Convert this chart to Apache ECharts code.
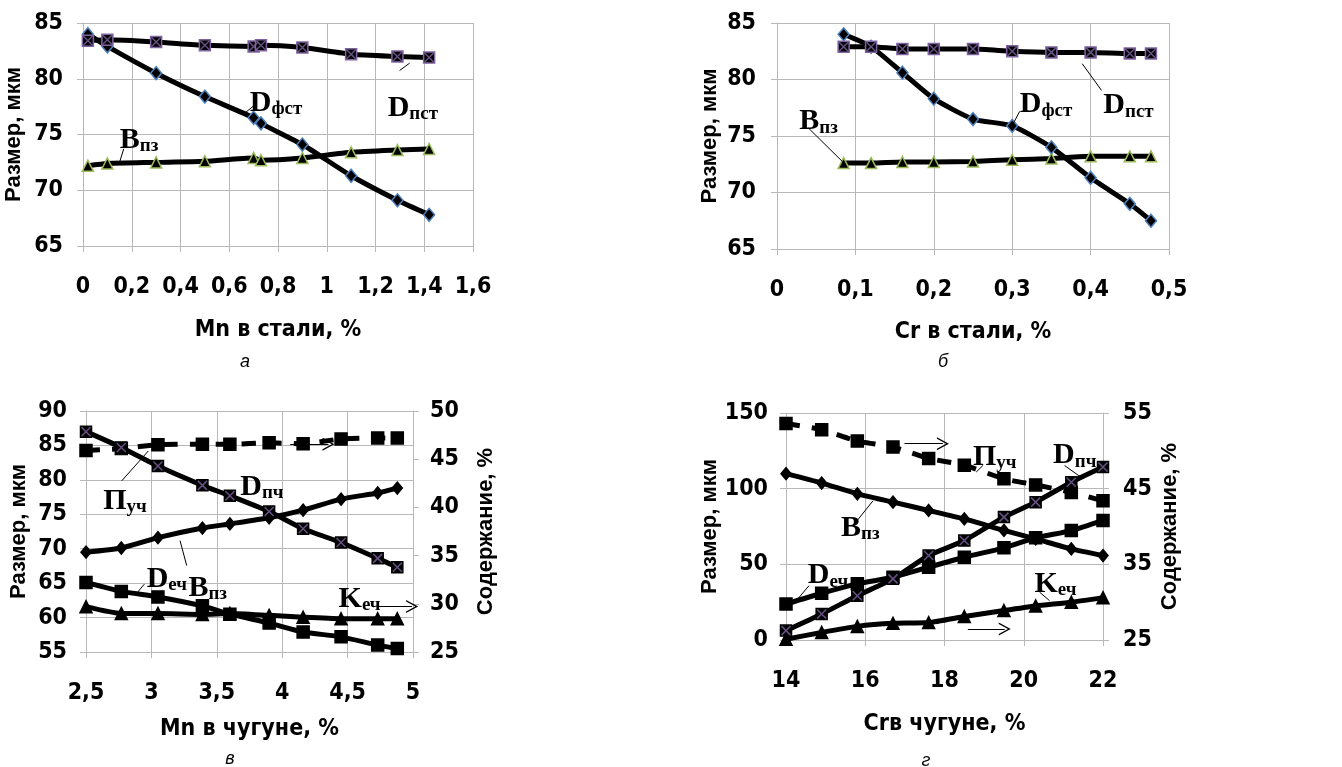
<!DOCTYPE html>
<html>
<head>
<meta charset="utf-8">
<script src="https://cdn.jsdelivr.net/npm/echarts@6/dist/echarts.min.js"></script>
<style>
html,body{margin:0;padding:0;background:#fff;}
#chart{width:1342px;height:767px;}
</style>
</head>
<body>
<div id="chart"></div>
<script>
// а - Mn в стали
var mnSteel = [0.02, 0.1, 0.3, 0.5, 0.7, 0.73, 0.9, 1.1, 1.29, 1.42];
var aDpst = [83.4, 83.5, 83.3, 83.0, 82.9, 83.0, 82.8, 82.2, 82.0, 81.9];
var aDfst = [84.0, 82.9, 80.5, 78.4, 76.5, 76.0, 74.1, 71.3, 69.1, 67.8];
var aBpz = [72.2, 72.4, 72.5, 72.6, 72.9, 72.7, 72.9, 73.4, 73.6, 73.7];

// б - Cr в стали
var crSteel = [0.085, 0.12, 0.16, 0.2, 0.25, 0.3, 0.35, 0.4, 0.45, 0.477];
var bDpst = [82.9, 82.9, 82.7, 82.7, 82.7, 82.5, 82.4, 82.4, 82.3, 82.3];
var bDfst = [84.0, 82.9, 80.6, 78.3, 76.5, 75.9, 74.0, 71.3, 69.0, 67.5];
var bBpz = [72.6, 72.6, 72.7, 72.7, 72.75, 72.9, 73.0, 73.2, 73.2, 73.2];

// в - Mn в чугуне (Пуч и Кеч по правой оси)
var mnIron = [2.5, 2.77, 3.05, 3.39, 3.6, 3.9, 4.16, 4.45, 4.73, 4.88];
var vPuch = [45.9, 46.1, 46.5, 46.55, 46.55, 46.7, 46.6, 47.1, 47.2, 47.2];
var vDpch = [87.0, 84.7, 82.0, 79.2, 77.7, 75.4, 72.9, 70.9, 68.6, 67.3];
var vBpz = [69.5, 70.1, 71.6, 73.0, 73.6, 74.5, 75.6, 77.2, 78.1, 78.8];
var vDech = [65.1, 63.8, 63.0, 61.7, 60.5, 59.2, 57.9, 57.2, 56.0, 55.5];
var vKech = [29.7, 29.0, 29.0, 28.9, 29.0, 28.8, 28.6, 28.45, 28.45, 28.45];

// г - Cr в чугуне
var crIron = [14, 14.9, 15.8, 16.7, 17.6, 18.5, 19.5, 20.3, 21.2, 22];
var gPuch = [53.6, 52.8, 51.3, 50.5, 49.0, 48.1, 46.3, 45.5, 44.5, 43.4];
var gBpz = [109.9, 103.7, 96.6, 91.1, 85.6, 80.0, 72.4, 66.8, 60.2, 55.8];
var gDpch = [6.2, 17.2, 29.3, 40.4, 55.8, 65.7, 81.2, 91.1, 104.3, 114.3];
var gDech = [23.8, 30.9, 37.1, 41.5, 48.1, 54.7, 60.9, 67.5, 72.3, 79.0];
var gKech = [25.1, 26.0, 26.8, 27.2, 27.3, 28.1, 28.9, 29.5, 30.0, 30.6];

// подписи кривых [буква, индекс, x, y] и выноски [x1, y1, x2, y2]
var aNotes = [['D', 'фст', 0.684, 77.84], ['D', 'пст', 1.25, 77.39], ['B', 'пз', 0.151, 74.52]];
var aLeads = [[0.70, 77.57, 0.663, 76.9], [1.299, 80.74, 1.34, 81.4], [0.167, 73.71, 0.148, 72.36]];
var bNotes = [['B', 'пз', 0.0285, 76.29], ['D', 'фст', 0.3096, 77.77], ['D', 'пст', 0.4162, 77.68]];
var bLeads = [[0.04, 75.71, 0.084, 72.7], [0.3096, 77.18, 0.3012, 76.09], [0.414, 79.03, 0.3893, 81.4]];
var vNotes = [['П', 'уч', 2.632, 76.96], ['D', 'пч', 3.679, 78.99], ['D', 'еч', 2.964, 65.62], ['B', 'пз', 3.283, 64.31], ['K', 'еч', 4.431, 62.72]];
var vLeads = [[2.773, 79.86, 2.977, 84.2], [2.946, 64.85, 2.875, 63.25], [3.27, 67.55, 3.219, 71.17]];
var vArrows = [[4.061, 85.18, 4.354, 85.18], [4.737, 61.6, 4.993, 61.6]];
var gNotes = [['П', 'уч', 18.72, 120.9], ['D', 'пч', 20.74, 121.9], ['B', 'пз', 15.39, 74.1], ['D', 'еч', 14.55, 42.5], ['K', 'еч', 20.27, 37.0]];
var gLeads = [[18.97, 115.3, 18.8, 111.0], [21.03, 115.3, 21.5, 106.5], [15.81, 79.4, 16.19, 91.8], [14.58, 35.9, 14.28, 26.6], [20.4, 31.6, 20.65, 26.0]];
var gArrows = [[16.99, 129.7, 17.96, 129.7], [18.59, 7.3, 19.52, 7.3]];

var tickFont = '"Liberation Sans Narrow", "DejaVu Sans Condensed", sans-serif';
var titleFont = '"Liberation Sans", Arial, sans-serif';
var serif = '"Liberation Serif", "Times New Roman", serif';
var gridColor = '#b8b8b8';
var blue = '#4f81bd', green = '#9bbb59', purple = '#8064a2';
var chevron = 'path://M0,12 L6,0 L12,12 L10.6,12 L6,2.8 L1.4,12 Z';
var xMark = 'path://M0,0 L10,10 M10,0 L0,10';

function dec(v) { return String(Math.round(v * 1000) / 1000).replace('.', ','); }
function zip(xs, ys) { return xs.map(function (x, i) { return [x, ys[i]]; }); }

function xAx(g, min, max, step, name, gap) {
  return {
    type: 'value', gridIndex: g, min: min, max: max, interval: step,
    name: name, nameLocation: 'middle', nameGap: gap,
    nameTextStyle: { fontFamily: tickFont, fontWeight: 'bold', fontSize: 23, color: '#000' },
    axisLine: { show: true, lineStyle: { color: gridColor } },
    axisTick: { show: true, length: 6, lineStyle: { color: gridColor } },
    axisLabel: { margin: 30, formatter: dec, fontFamily: tickFont, fontWeight: 'bold', fontSize: 23, color: '#000' },
    splitLine: { show: true, lineStyle: { color: gridColor } }
  };
}
function yAx(g, pos, min, max, step, name, gap, margin, split) {
  return {
    type: 'value', gridIndex: g, position: pos, min: min, max: max, interval: step,
    name: name, nameLocation: 'middle', nameGap: gap, nameRotate: 90,
    nameTextStyle: { fontFamily: titleFont, fontWeight: 'bold', fontSize: 22, color: '#000' },
    axisLine: { show: true, lineStyle: { color: gridColor } },
    axisTick: { show: true, length: 6, lineStyle: { color: gridColor } },
    axisLabel: { margin: margin, formatter: dec, fontFamily: tickFont, fontWeight: 'bold', fontSize: 23, color: '#000' },
    splitLine: { show: split, lineStyle: { color: gridColor } }
  };
}

function curve(xi, yi, xs, ys, symbol, size, border, dashed) {
  return {
    type: 'line', xAxisIndex: xi, yAxisIndex: yi, data: zip(xs, ys),
    smooth: 0.2, symbol: symbol, symbolSize: size, showAllSymbol: true,
    lineStyle: { color: '#000', width: 5, type: dashed ? [14, 12] : 'solid' },
    itemStyle: { color: '#000', borderColor: border || '#000', borderWidth: 1.5 },
    z: 3, animation: false
  };
}
function crosses(xi, yi, xs, ys) {
  return {
    type: 'scatter', xAxisIndex: xi, yAxisIndex: yi, data: zip(xs, ys),
    symbol: xMark, symbolSize: 9, silent: true, z: 4, animation: false,
    itemStyle: { color: 'transparent', borderColor: purple, borderWidth: 1.5 }
  };
}
function annotate(s, notes, leads, arrows) {
  s.markPoint = {
    symbol: 'circle', symbolSize: 0, silent: true, animation: false,
    itemStyle: { color: 'transparent' },
    label: {
      show: true, position: 'right', distance: 0,
      rich: {
        m: { fontFamily: serif, fontWeight: 'bold', fontSize: 30, color: '#000', lineHeight: 32 },
        s: { fontFamily: serif, fontWeight: 'bold', fontSize: 19, color: '#000', lineHeight: 22, verticalAlign: 'bottom' }
      }
    },
    data: notes.map(function (n) {
      return { coord: [n[2], n[3]], label: { formatter: '{m|' + n[0] + '}{s|' + n[1] + '}' } };
    })
  };
  var lines = leads.map(function (l) {
    return [{ coord: [l[0], l[1]] }, { coord: [l[2], l[3]] }];
  });
  (arrows || []).forEach(function (a) {
    lines.push([{ coord: [a[0], a[1]], symbol: 'none' },
                { coord: [a[2], a[3]], symbol: chevron, symbolSize: [13, 12] }]);
  });
  s.markLine = {
    silent: true, animation: false, symbol: ['none', 'none'],
    label: { show: false },
    lineStyle: { color: '#000', width: 1, type: 'solid' },
    data: lines
  };
  return s;
}

var series = [
  curve(0, 0, mnSteel, aBpz, 'triangle', 11, green),
  annotate(curve(0, 0, mnSteel, aDfst, 'diamond', [11, 13], blue), aNotes, aLeads),
  curve(0, 0, mnSteel, aDpst, 'rect', 11, purple),
  crosses(0, 0, mnSteel, aDpst),

  curve(1, 1, crSteel, bBpz, 'triangle', 11, green),
  annotate(curve(1, 1, crSteel, bDfst, 'diamond', [11, 13], blue), bNotes, bLeads),
  curve(1, 1, crSteel, bDpst, 'rect', 11, purple),
  crosses(1, 1, crSteel, bDpst),

  curve(2, 3, mnIron, vPuch, 'rect', 12, '#000', true),
  annotate(curve(2, 2, mnIron, vBpz, 'diamond', [10, 12]), vNotes, vLeads, vArrows),
  curve(2, 2, mnIron, vDpch, 'rect', 11),
  crosses(2, 2, mnIron, vDpch),
  curve(2, 2, mnIron, vDech, 'rect', 12),
  curve(2, 3, mnIron, vKech, 'triangle', 12),

  curve(3, 5, crIron, gPuch, 'rect', 12, '#000', true),
  annotate(curve(3, 4, crIron, gBpz, 'diamond', [10, 12]), gNotes, gLeads, gArrows),
  curve(3, 4, crIron, gDpch, 'rect', 11),
  crosses(3, 4, crIron, gDpch),
  curve(3, 4, crIron, gDech, 'rect', 12),
  curve(3, 5, crIron, gKech, 'triangle', 12)
];

var captions = [['а', 245, 362], ['б', 943, 362], ['в', 230, 759], ['г', 926, 761]];

var option = {
  backgroundColor: '#fff',
  animation: false,
  grid: [
    { left: 83, top: 23, width: 390, height: 223 },
    { left: 777, top: 23, width: 392, height: 226 },
    { left: 86, top: 411, width: 327, height: 241 },
    { left: 786, top: 413, width: 317, height: 227 }
  ],
  xAxis: [
    xAx(0, 0, 1.6, 0.2, 'Mn в стали, %', 73),
    xAx(1, 0, 0.5, 0.1, 'Cr в стали, %', 72),
    xAx(2, 2.5, 5, 0.5, 'Mn в чугуне, %', 66),
    xAx(3, 14, 22, 2, 'Crв чугуне, %', 73)
  ],
  yAxis: [
    yAx(0, 'left', 65, 85, 5, 'Размер, мкм', 58, 20, true),
    yAx(1, 'left', 65, 85, 5, 'Размер, мкм', 56, 21, true),
    yAx(2, 'left', 55, 90, 5, 'Размер, мкм', 56, 19, true),
    yAx(2, 'right', 25, 50, 5, 'Содержание, %', 62, 17, false),
    yAx(3, 'left', 0, 150, 50, 'Размер, мкм', 58, 18, true),
    yAx(3, 'right', 25, 55, 10, 'Содержание, %', 56, 20, false)
  ],
  graphic: captions.map(function (c) {
    return {
      type: 'text', x: c[1], y: c[2],
      style: { text: c[0], align: 'center', verticalAlign: 'middle', font: 'italic 18px "Liberation Sans", Arial, sans-serif', fill: '#000' }
    };
  }),
  series: series
};

var chart = echarts.init(document.getElementById('chart'));
chart.setOption(option);
</script>
</body>
</html>
